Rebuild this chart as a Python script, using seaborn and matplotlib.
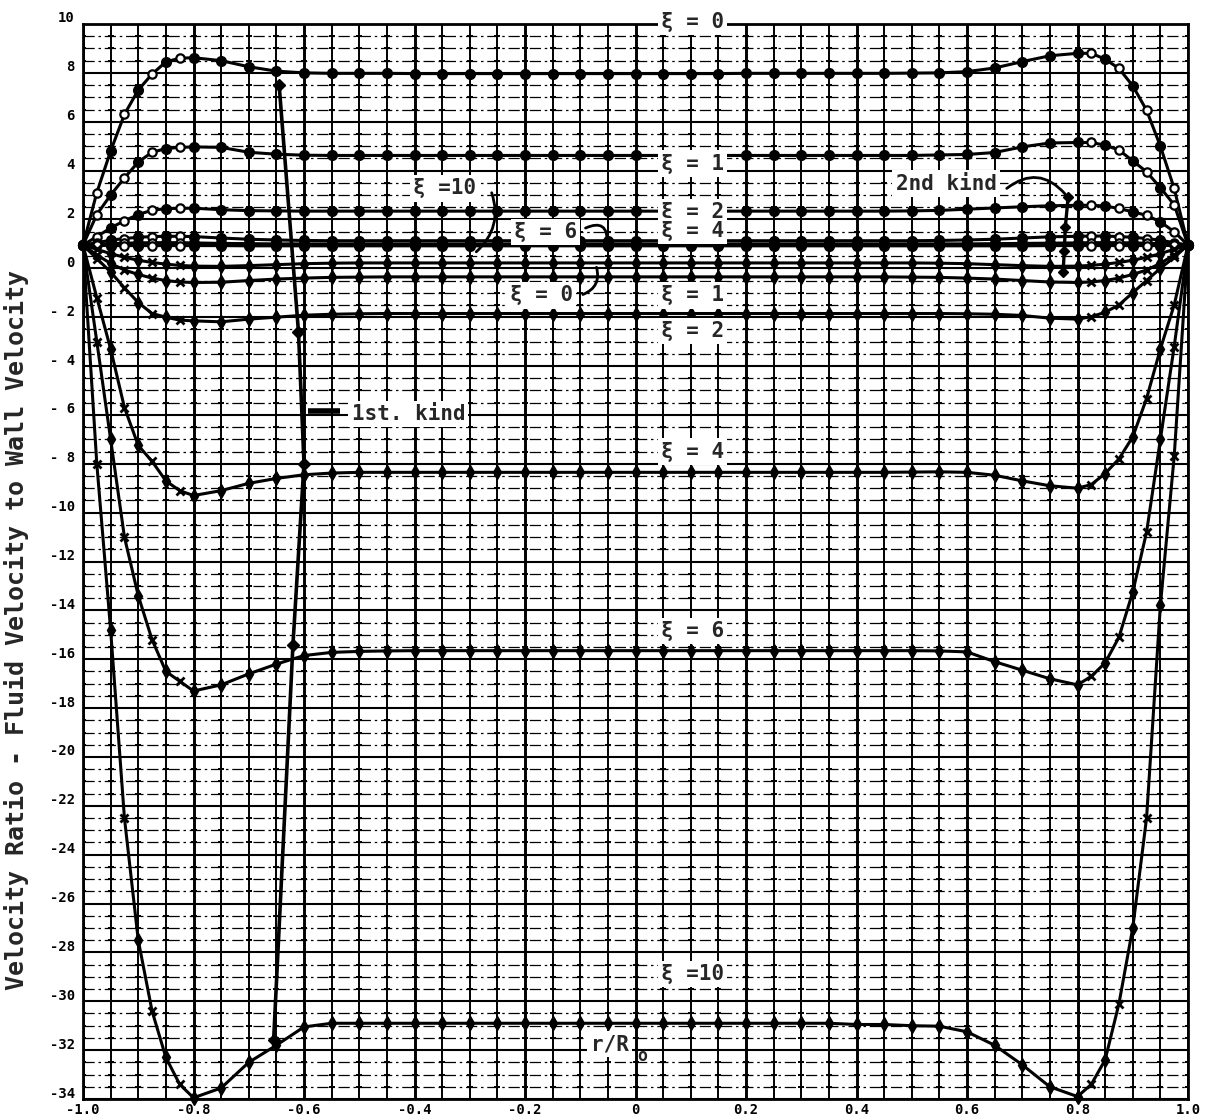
import numpy as np
import pandas as pd
import matplotlib
matplotlib.use("Agg")
import matplotlib.pyplot as plt
import matplotlib.transforms as mtransforms
import seaborn as sns

# Radial stations r/Ro (stations are closer together next to the walls)
r_stations = [-1.0, -0.975, -0.95, -0.925, -0.9, -0.875, -0.85, -0.825, -0.8,
              -0.75, -0.7, -0.65, -0.6, -0.55, -0.5, -0.45, -0.4, -0.35, -0.3, -0.25,
              -0.2, -0.15, -0.1, -0.05, 0.0, 0.05, 0.1, 0.15, 0.2, 0.25, 0.3, 0.35,
              0.4, 0.45, 0.5, 0.55, 0.6, 0.65, 0.7, 0.75,
              0.8, 0.825, 0.85, 0.875, 0.9, 0.925, 0.95, 0.975, 1.0]

xi_values = [0, 1, 2, 4, 6, 10]

# Velocity ratio, solutions of the 2nd kind
v2_xi0 = [0.95, 3.1, 4.8, 6.3, 7.3, 7.95, 8.45, 8.6, 8.62,
          8.5, 8.25, 8.07, 8.0, 7.98, 7.98, 7.98, 7.97, 7.97, 7.97, 7.97,
          7.97, 7.97, 7.97, 7.97, 7.97, 7.97, 7.97, 7.97, 7.98, 7.98, 7.98, 7.98,
          7.98, 7.98, 7.99, 8.0, 8.05, 8.2, 8.46, 8.7,
          8.8, 8.8, 8.56, 8.18, 7.47, 6.47, 5.0, 3.27, 0.95]
v2_xi1 = [0.95, 2.2, 3.0, 3.7, 4.35, 4.75, 4.9, 4.95, 4.97,
          4.95, 4.75, 4.67, 4.63, 4.62, 4.62, 4.62, 4.62, 4.62, 4.62, 4.62,
          4.62, 4.62, 4.62, 4.62, 4.62, 4.62, 4.62, 4.62, 4.62, 4.62, 4.62, 4.62,
          4.62, 4.62, 4.62, 4.64, 4.66, 4.74, 4.97, 5.13,
          5.15, 5.15, 5.04, 4.84, 4.4, 3.95, 3.3, 2.6, 0.95]
v2_xi2 = [0.95, 1.3, 1.65, 1.95, 2.2, 2.38, 2.44, 2.46, 2.46,
          2.4, 2.36, 2.35, 2.34, 2.34, 2.34, 2.34, 2.34, 2.34, 2.34, 2.34,
          2.34, 2.34, 2.34, 2.34, 2.34, 2.34, 2.34, 2.34, 2.34, 2.34, 2.34, 2.34,
          2.34, 2.34, 2.35, 2.37, 2.42, 2.47, 2.52, 2.56,
          2.58, 2.58, 2.55, 2.45, 2.31, 2.17, 1.9, 1.5, 0.95]
v2_xi4 = [0.95, 1.05, 1.15, 1.22, 1.27, 1.3, 1.31, 1.31, 1.3,
          1.24, 1.19, 1.16, 1.14, 1.13, 1.13, 1.13, 1.13, 1.13, 1.13, 1.13,
          1.13, 1.13, 1.13, 1.13, 1.13, 1.13, 1.13, 1.13, 1.13, 1.13, 1.13, 1.13,
          1.13, 1.13, 1.13, 1.14, 1.16, 1.19, 1.24, 1.29,
          1.31, 1.32, 1.32, 1.3, 1.27, 1.22, 1.15, 1.05, 0.95]
v2_xi6 = [0.95, 0.98, 1.01, 1.03, 1.04, 1.05, 1.05, 1.05, 1.04,
          1.02, 1.01, 1.0, 1.0, 1.0, 1.0, 1.0, 1.0, 1.0, 1.0, 1.0,
          1.0, 1.0, 1.0, 1.0, 1.0, 1.0, 1.0, 1.0, 1.0, 1.0, 1.0, 1.0,
          1.0, 1.0, 1.0, 1.0, 1.0, 1.01, 1.02, 1.03,
          1.04, 1.05, 1.05, 1.05, 1.04, 1.03, 1.01, 0.98, 0.95]
v2_xi10 = [0.95, 0.94, 0.93, 0.93, 0.93, 0.93, 0.93, 0.93, 0.93,
           0.93, 0.92, 0.92, 0.92, 0.92, 0.92, 0.92, 0.92, 0.92, 0.92, 0.92,
           0.92, 0.92, 0.92, 0.92, 0.92, 0.92, 0.92, 0.92, 0.92, 0.92, 0.92, 0.92,
           0.92, 0.92, 0.92, 0.92, 0.92, 0.92, 0.92, 0.93,
           0.93, 0.93, 0.93, 0.93, 0.93, 0.93, 0.93, 0.94, 0.95]

# Velocity ratio, solutions of the 1st kind
v1_xi0 = [0.95, 0.78, 0.6, 0.45, 0.33, 0.24, 0.17, 0.12, 0.09,
          0.08, 0.11, 0.15, 0.19, 0.21, 0.22, 0.22, 0.22, 0.22, 0.22, 0.22,
          0.22, 0.22, 0.22, 0.22, 0.22, 0.22, 0.22, 0.22, 0.22, 0.22, 0.22, 0.22,
          0.22, 0.22, 0.22, 0.21, 0.19, 0.15, 0.11, 0.08,
          0.09, 0.12, 0.17, 0.24, 0.33, 0.45, 0.6, 0.78, 0.95]
v1_xi1 = [0.95, 0.55, 0.2, -0.07, -0.25, -0.4, -0.5, -0.56, -0.58,
          -0.57, -0.5, -0.44, -0.4, -0.37, -0.36, -0.35, -0.35, -0.35, -0.35, -0.35,
          -0.35, -0.35, -0.35, -0.35, -0.35, -0.35, -0.35, -0.35, -0.35, -0.35, -0.35, -0.35,
          -0.35, -0.35, -0.36, -0.37, -0.4, -0.44, -0.5, -0.56,
          -0.58, -0.56, -0.5, -0.4, -0.25, -0.07, 0.2, 0.55, 0.95]
v1_xi2 = [0.95, 0.4, -0.15, -0.8, -1.4, -1.85, -2.0, -2.12, -2.15,
          -2.19, -2.08, -2.0, -1.92, -1.88, -1.86, -1.85, -1.85, -1.85, -1.85, -1.85,
          -1.85, -1.85, -1.85, -1.85, -1.85, -1.85, -1.85, -1.85, -1.85, -1.85, -1.85, -1.85,
          -1.85, -1.85, -1.85, -1.85, -1.86, -1.88, -1.93, -2.04,
          -2.08, -1.98, -1.8, -1.5, -1.0, -0.5, 0.0, 0.45, 0.95]
v1_xi4 = [0.95, -1.2, -3.3, -5.7, -7.25, -7.9, -8.7, -9.1, -9.3,
          -9.1, -8.8, -8.6, -8.45, -8.38, -8.35, -8.35, -8.35, -8.35, -8.35, -8.35,
          -8.35, -8.35, -8.35, -8.35, -8.35, -8.35, -8.35, -8.35, -8.35, -8.35, -8.35, -8.35,
          -8.35, -8.35, -8.34, -8.33, -8.35, -8.47, -8.7, -8.9,
          -9.0, -8.85, -8.4, -7.8, -6.9, -5.33, -3.3, -1.5, 0.95]
v1_xi6 = [0.95, -3.0, -7.0, -11.0, -13.4, -15.2, -16.5, -16.9, -17.3,
          -17.05, -16.6, -16.2, -15.85, -15.72, -15.68, -15.66, -15.65, -15.65, -15.65, -15.65,
          -15.65, -15.65, -15.65, -15.65, -15.65, -15.65, -15.65, -15.65, -15.65, -15.65, -15.65, -15.65,
          -15.65, -15.65, -15.65, -15.66, -15.7, -16.1, -16.45, -16.8,
          -17.05, -16.7, -16.15, -15.1, -13.25, -10.8, -7.0, -3.2, 0.95]
v1_xi10 = [0.95, -8.0, -14.8, -22.5, -27.5, -30.4, -32.3, -33.4, -33.95,
           -33.55, -32.5, -31.8, -31.05, -30.9, -30.9, -30.9, -30.9, -30.9, -30.9, -30.9,
           -30.9, -30.9, -30.9, -30.9, -30.9, -30.9, -30.9, -30.9, -30.9, -30.9, -30.9, -30.9,
           -30.95, -30.95, -31.0, -31.02, -31.25, -31.8, -32.6, -33.5,
           -33.9, -33.4, -32.4, -30.1, -27.0, -22.5, -13.8, -7.7, 0.95]

# Loci marked "1st kind" and "2nd kind"
locus1_r = [-0.645, -0.61, -0.60, -0.62, -0.655]
locus1_v = [7.5, -2.6, -8.0, -15.4, -31.6]
locus2_r = [0.783, 0.778, 0.776, 0.774]
locus2_v = [2.9, 1.7, 0.7, -0.15]

y_ticks = [10, 8, 6, 4, 2, 0, -2, -4, -6, -8, -10, -12, -14, -16, -18, -20,
           -22, -24, -26, -28, -30, -32, -34]
y_tick_labels = ["10", "8", "6", "4", "2", "0", "- 2", "- 4", "- 6", "- 8", "-10",
                 "-12", "-14", "-16", "-18", "-20", "-22", "-24", "-26", "-28",
                 "-30", "-32", "-34"]
x_ticks = [-1.0, -0.8, -0.6, -0.4, -0.2, 0.0, 0.2, 0.4, 0.6, 0.8, 1.0]
x_tick_labels = ["-1.0", "-0.8", "-0.6", "-0.4", "-0.2", "0", "0.2", "0.4",
                 "0.6", "0.8", "1.0"]

# Curve labels along the right-centre column: (text, velocity ratio)
curve_labels = [("ξ = 0", 10.1), ("ξ = 1", 4.29), ("ξ = 2", 2.32), ("ξ = 4", 1.54),
                ("ξ = 1", -1.11), ("ξ = 2", -2.58), ("ξ = 4", -7.5),
                ("ξ = 6", -14.83), ("ξ =10", -28.88)]

second_kind = [v2_xi0, v2_xi1, v2_xi2, v2_xi4, v2_xi6, v2_xi10]
first_kind = [v1_xi0, v1_xi1, v1_xi2, v1_xi4, v1_xi6, v1_xi10]

rows = []
for kind, family in (("second", second_kind), ("first", first_kind)):
    for xi, vals in zip(xi_values, family):
        for rr, vv in zip(r_stations, vals):
            rows.append((kind, xi, rr, vv))
df = pd.DataFrame(rows, columns=["kind", "xi", "r", "v"])
df["on_grid"] = np.isclose(df["r"] * 20, np.round(df["r"] * 20))

sns.set_theme(style="white")
plt.rcParams["font.family"] = ["DejaVu Sans Mono", "DejaVu Sans"]

fig = plt.figure(figsize=(12.12, 11.2), dpi=100)
ax = fig.add_axes([83 / 1212, 1 - 1099 / 1120, (1188 - 83) / 1212, (1099 - 24) / 1120])
ax.set_xlim(-1, 1)
ax.set_ylim(-34, 10)

# Graph-paper ruling
xs = np.round(np.arange(-1.0, 1.0001, 0.05), 3)
ys = np.round(np.arange(-34.0, 10.001, 0.5), 2)
for x in xs:
    major = abs(x / 0.2 - round(x / 0.2)) < 1e-6
    ax.axvline(x, color="black", lw=2.1 if major else 1.4, zorder=1)
for y in ys:
    if abs(y / 2 - round(y / 2)) < 1e-6:
        ax.axhline(y, color="black", lw=1.5, zorder=1)
    else:
        ax.axhline(y, color="black", lw=0.9, ls=(0, (9, 3, 2, 3)), zorder=1)
gx, gy = np.meshgrid(xs, ys)
ax.plot(gx.ravel(), gy.ravel(), ls="none", marker="_", ms=5, mew=1.4,
        color="black", zorder=1)

# Velocity profiles
for (kind, xi), sub in df.groupby(["kind", "xi"], sort=False):
    sns.lineplot(data=sub, x="r", y="v", color="black", lw=2.2, estimator=None,
                 sort=False, ax=ax, zorder=3, legend=False)

sk = df[df["kind"] == "second"]
fk = df[df["kind"] == "first"]
ax.plot(sk.loc[sk.on_grid, "r"], sk.loc[sk.on_grid, "v"], ls="none", marker="o",
        ms=7, color="black", zorder=4, clip_on=False)
ax.plot(sk.loc[~sk.on_grid, "r"], sk.loc[~sk.on_grid, "v"], ls="none", marker="o",
        ms=6, mfc="white", mec="black", mew=1.6, zorder=4, clip_on=False)
ax.plot(fk.loc[fk.on_grid, "r"], fk.loc[fk.on_grid, "v"], ls="none", marker="d",
        ms=7, color="black", zorder=4, clip_on=False)
ax.plot(fk.loc[~fk.on_grid, "r"], fk.loc[~fk.on_grid, "v"], ls="none", marker="x",
        ms=6, mew=2.0, color="black", zorder=4, clip_on=False)

# Loci of the two kinds
sns.lineplot(x=locus1_r, y=locus1_v, color="black", lw=2.6, estimator=None,
             sort=False, ax=ax, zorder=3, legend=False)
ax.plot(locus1_r, locus1_v, ls="none", marker="D", ms=6, color="black", zorder=4)
sns.lineplot(x=locus2_r, y=locus2_v, color="black", lw=2.4, estimator=None,
             sort=False, ax=ax, zorder=3, legend=False)
ax.plot(locus2_r, locus2_v, ls="none", marker="D", ms=5, color="black", zorder=4)

# Axes frame and ticks
for s in ax.spines.values():
    s.set_linewidth(2.0)
    s.set_color("black")
    s.set_zorder(6)
ax.set_yticks(y_ticks, y_tick_labels)
ax.set_xticks(x_ticks, x_tick_labels)
ax.tick_params(axis="both", length=0, labelsize=10, colors="black")
ax.tick_params(axis="y", pad=6)
ax.tick_params(axis="x", pad=3)
for lbl in ax.get_yticklabels() + ax.get_xticklabels():
    lbl.set_fontweight("bold")
lift = mtransforms.ScaledTranslation(0, 7 / 100, fig.dpi_scale_trans)
for tick in ax.yaxis.get_major_ticks():
    tick.label1.set_transform(tick.label1.get_transform() + lift)
ax.set_xlabel("")
ax.set_ylabel("")

fig.text(0.014, 0.4375, "Velocity Ratio - Fluid Velocity to Wall Velocity",
         rotation=90, ha="center", va="center", fontsize=18, fontweight="bold")

box = dict(boxstyle="square,pad=0.15", fc="white", ec="none")
txt = dict(fontsize=15, fontweight="bold", zorder=7, bbox=box)
for label, yv in curve_labels:
    ax.text(0.103, yv, label, ha="center", va="center", clip_on=False, **txt)

arrow = dict(arrowstyle="-", lw=2.0, color="black")
ax.text(-0.345, 3.27, "ξ =10", ha="center", va="center", **txt)
ax.annotate("", xy=(-0.292, 0.6), xytext=(-0.262, 3.2),
            arrowprops=dict(arrow, connectionstyle="arc3,rad=-0.35"), zorder=7)
ax.text(-0.163, 1.5, "ξ = 6", ha="center", va="center", **txt)
ax.annotate("", xy=(-0.052, 0.93), xytext=(-0.095, 1.6),
            arrowprops=dict(arrow, connectionstyle="arc3,rad=-0.9"), zorder=7)
ax.text(-0.17, -1.11, "ξ = 0", ha="center", va="center", **txt)
ax.annotate("", xy=(-0.072, 0.15), xytext=(-0.1, -1.11),
            arrowprops=dict(arrow, connectionstyle="arc3,rad=0.5"), zorder=7)

ax.text(-0.514, -5.95, "1st. kind", ha="left", va="center", **txt)
ax.plot([-0.592, -0.535], [-5.83, -5.83], color="black", lw=4.0,
        solid_capstyle="butt", zorder=7)

ax.text(0.562, 3.47, "2nd kind", ha="center", va="center", **txt)
ax.annotate("", xy=(0.781, 2.95), xytext=(0.668, 3.2),
            arrowprops=dict(arrow, connectionstyle="arc3,rad=-0.5"), zorder=7)

ax.text(-0.047, -31.75, "r/R", ha="center", va="center", **txt)
ax.text(0.013, -32.25, "o", ha="center", va="center", fontsize=12,
        fontweight="bold", zorder=8)

fig.savefig("out.png", dpi=100)
